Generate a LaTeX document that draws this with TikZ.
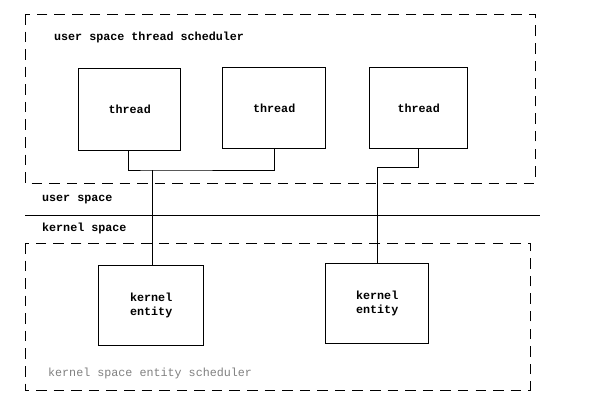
\documentclass[tikz,border=0pt]{standalone}
\usepackage{fontspec}
\setmonofont{Liberation Mono}
\begin{document}
\begin{tikzpicture}[x=0.03cm, y=-0.03cm,
        box/.style={draw, very thick, font=\ttfamily\bfseries, align=center, anchor=north west},
        frame/.style={thick, dash pattern=on 9pt off 6pt},
        lbl/.style={font=\ttfamily\bfseries, anchor=west}]

            % the frame
            \useasboundingbox (0,0) rectangle (600,409);

            % user space
            \draw[frame] (25,14) rectangle (535,183);
            \node[lbl] (usched) at (50,37) {user space thread scheduler};
            \node[box, minimum width=3.06cm, minimum height=2.46cm] (t1) at (78,68) {thread};
            \node[box, minimum width=3.09cm, minimum height=2.43cm] (t2) at (222,67) {thread};
            \node[box, minimum width=2.94cm, minimum height=2.43cm] (t3) at (369,67) {thread};

            % boundary
            \draw[thick] (25,215) -- (540,215);
            \node[lbl] (uspace) at (38,200) {user space};
            \node[lbl] (kspace) at (38,228) {kernel space};

            % kernel space
            \draw[frame] (25,243) rectangle (530,390);
            \node[lbl, text=gray, font=\ttfamily] (ksched) at (44,373) {kernel space entity scheduler};
            \node[box, minimum width=3.15cm, minimum height=2.4cm] (k1) at (98,265) {kernel\\entity};
            \node[box, minimum width=3.09cm, minimum height=2.4cm] (k2) at (325,263) {kernel\\entity};

            % links
            \coordinate (j1) at (152,170);
            \coordinate (j2) at (377,167);
            \draw[thick] (t1.south -| 128,0) |- (j1) -| (t2.south);
            \draw[thick] (j1) -- (k1.north -| j1);
            \draw[thick] (t3.south) |- (j2) -- (k2.north -| j2);
        \end{tikzpicture}
\end{document}
